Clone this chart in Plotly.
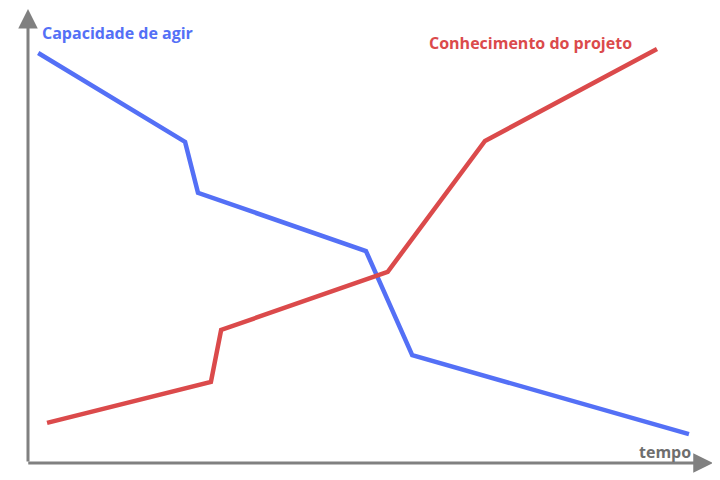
import plotly.graph_objects as go

# Data (time 0-100, value 0-100)
blue_x = [1.5, 23.1, 25.0, 49.7, 56.5, 97.2]
blue_y = [90.9, 71.2, 59.9, 47.0, 23.9, 6.4]
red_x = [2.8, 26.9, 28.4, 52.9, 67.2, 92.5]
red_y = [8.9, 18.0, 29.5, 42.4, 71.4, 91.8]

BLUE = "#5470F6"
RED = "#DB4A4B"
GREY = "#808080"
FONT = "Open Sans"

fig = go.Figure()
fig.add_trace(go.Scatter(x=blue_x, y=blue_y, mode="lines",
                         line=dict(color=BLUE, width=4.5), name="Capacidade de agir",
                         hoverinfo="skip"))
fig.add_trace(go.Scatter(x=red_x, y=red_y, mode="lines",
                         line=dict(color=RED, width=4.5), name="Conhecimento do projeto",
                         hoverinfo="skip"))

# axis arrows
fig.add_annotation(x=0, y=1.011, xref="paper", yref="paper", ax=0, ay=456,
                   axref="pixel", ayref="pixel", text="", showarrow=True,
                   arrowhead=2, arrowsize=1.3, arrowwidth=3, arrowcolor=GREY)
fig.add_annotation(x=1.007, y=0, xref="paper", yref="paper", ax=-686, ay=0,
                   axref="pixel", ayref="pixel", text="", showarrow=True,
                   arrowhead=2, arrowsize=1.3, arrowwidth=3, arrowcolor=GREY)

fig.add_annotation(x=0.017, y=0.953, xref="paper", yref="paper", text="<b>Capacidade de agir</b>",
                   showarrow=False, xanchor="left", yanchor="middle",
                   font=dict(family=FONT, size=16, color=BLUE))
fig.add_annotation(x=0.891, y=0.931, xref="paper", yref="paper", text="<b>Conhecimento do projeto</b>",
                   showarrow=False, xanchor="right", yanchor="middle",
                   font=dict(family=FONT, size=16, color=RED))
fig.add_annotation(x=0.978, y=0.024, xref="paper", yref="paper", text="<b>tempo</b>",
                   showarrow=False, xanchor="right", yanchor="middle",
                   font=dict(family=FONT, size=16, color="#6E6E6E"))

fig.update_layout(
    width=720, height=480,
    margin=dict(l=20, r=20, t=4, b=25),
    paper_bgcolor="white", plot_bgcolor="white",
    showlegend=False,
    xaxis=dict(range=[0, 100], visible=False, fixedrange=True),
    yaxis=dict(range=[0, 100], visible=False, fixedrange=True),
)
fig.write_html("out.html")
